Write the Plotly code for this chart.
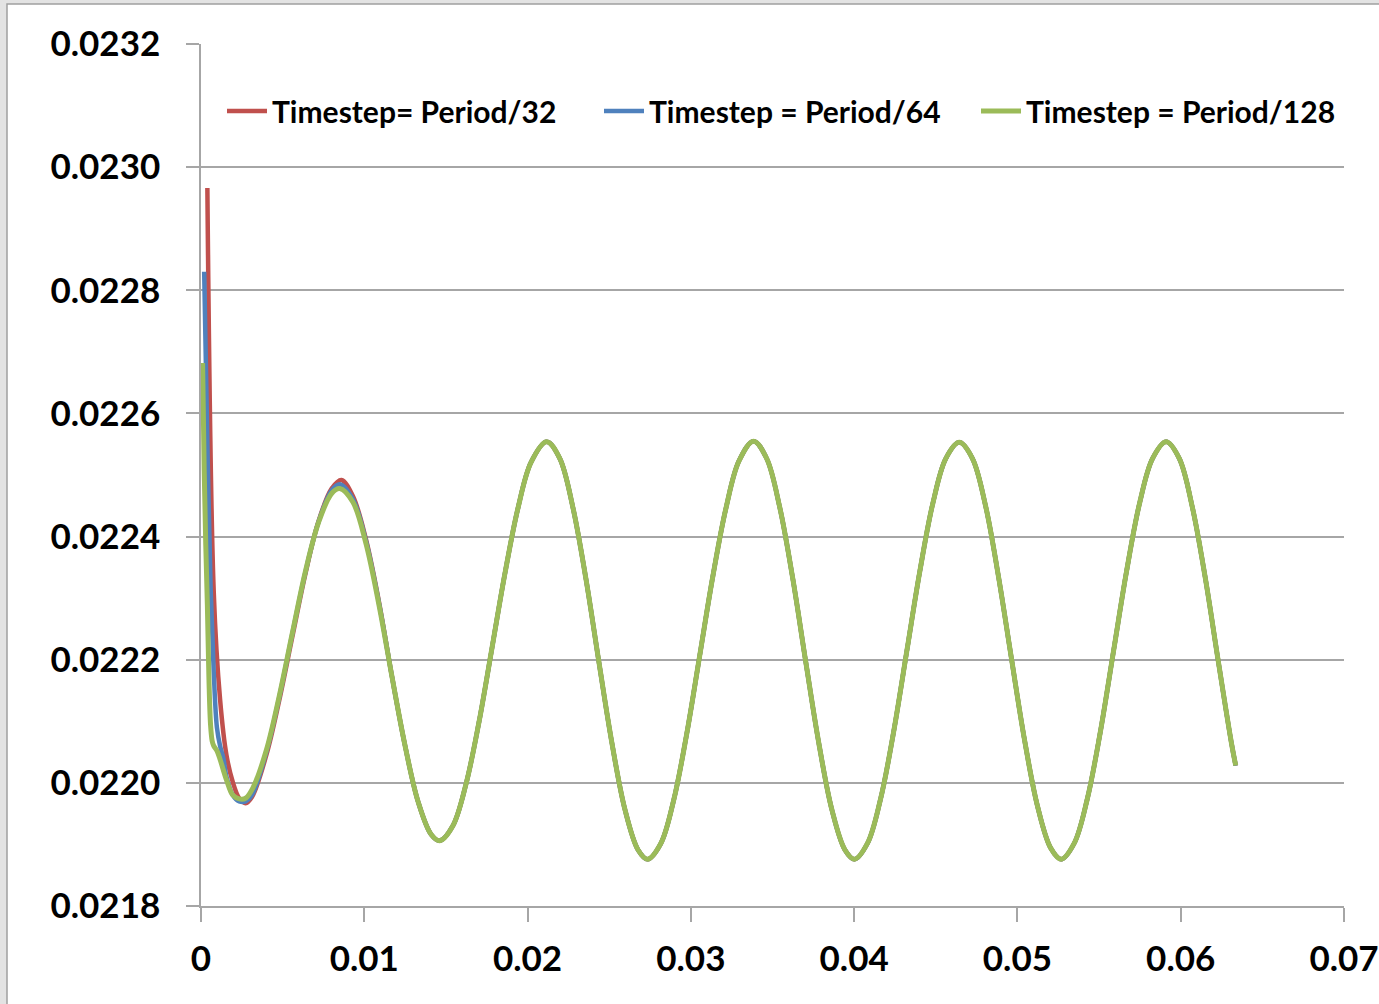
import plotly.graph_objects as go

# ---------------- data ----------------
names = ["Timestep= Period/32", "Timestep = Period/64", "Timestep = Period/128"]
colors = ["#C0504D", "#4F81BD", "#9BBB59"]

# start-up part + first cycle, one per series
t_red = [0.00039, 0.00078, 0.00117, 0.00156, 0.00195, 0.00234, 0.00273, 0.00312,
         0.0040, 0.0048, 0.0056, 0.0064, 0.0072, 0.0080, 0.0086, 0.0093, 0.0101, 0.0109]
v_red = [0.022966, 0.022310, 0.022135, 0.022045, 0.022001, 0.021975, 0.021967, 0.021977,
         0.022045, 0.022135, 0.022238, 0.022340, 0.022425, 0.022478, 0.022492, 0.022466,
         0.022396, 0.022294]

t_blue = [0.000195, 0.00039, 0.000585, 0.00078, 0.000975, 0.00117, 0.00137, 0.00156,
          0.00195, 0.00234, 0.00273, 0.00312, 0.0040, 0.0048, 0.0056, 0.0064, 0.0072,
          0.0080, 0.0085, 0.0093, 0.0101, 0.0109]
v_blue = [0.022830, 0.022550, 0.022320, 0.022180, 0.022090, 0.022060, 0.022040, 0.022010,
          0.021980, 0.021970, 0.021970, 0.021980, 0.022050, 0.022140, 0.022243, 0.022343,
          0.022424, 0.022475, 0.022485, 0.022461, 0.022393, 0.022292]

t_green = [0.0000977, 0.000195, 0.000293, 0.00039, 0.000488, 0.000586, 0.000684, 0.00078,
           0.00098, 0.00117, 0.00156, 0.00195, 0.00234, 0.00273, 0.0032, 0.0040, 0.0048,
           0.0056, 0.0064, 0.0072, 0.0080, 0.0085, 0.0093, 0.0101, 0.0109]
v_green = [0.022682, 0.022508, 0.022386, 0.022289, 0.022167, 0.022094, 0.022068, 0.022060,
           0.022052, 0.022038, 0.022005, 0.021980, 0.021974, 0.021975, 0.021993, 0.022053,
           0.022142, 0.022244, 0.022344, 0.022423, 0.022470, 0.022478, 0.022456, 0.022389,
           0.022289]

# settled oscillation (the three series coincide here)
t_osc = [0.0117, 0.0125, 0.0133, 0.0141, 0.01462, 0.01542, 0.01622, 0.01702, 0.01782,
         0.01862, 0.01942, 0.02022, 0.02117, 0.02197, 0.02277, 0.02357, 0.02437, 0.02517,
         0.02597, 0.02677, 0.02735, 0.02815, 0.02895, 0.02975, 0.03055, 0.03135, 0.03215,
         0.03295, 0.03384, 0.03464, 0.03544, 0.03624, 0.03704, 0.03784, 0.03864, 0.03944,
         0.04002, 0.04082, 0.04162, 0.04242, 0.04322, 0.04402, 0.04482, 0.04562, 0.04644,
         0.04724, 0.04804, 0.04884, 0.04964, 0.05044, 0.05124, 0.05204, 0.05268, 0.05348,
         0.05428, 0.05508, 0.05588, 0.05668, 0.05748, 0.05828, 0.05911, 0.05991, 0.06071,
         0.06151, 0.06231, 0.06311, 0.06337]
v_osc = [0.022172, 0.022060, 0.021969, 0.021916, 0.021906, 0.021930, 0.021997, 0.022098,
         0.022219, 0.022341, 0.022447, 0.022521, 0.022554, 0.022527, 0.022448, 0.022332,
         0.022196, 0.022064, 0.021956, 0.021891, 0.021876, 0.021901, 0.021972, 0.022080,
         0.022208, 0.022336, 0.022446, 0.022523, 0.022555, 0.022527, 0.022448, 0.022332,
         0.022196, 0.022064, 0.021956, 0.021891, 0.021876, 0.021902, 0.021974, 0.022083,
         0.022213, 0.022343, 0.022454, 0.022527, 0.022553, 0.022527, 0.022451, 0.022335,
         0.022201, 0.022069, 0.021961, 0.021894, 0.021876, 0.021902, 0.021974, 0.022083,
         0.022213, 0.022343, 0.022454, 0.022527, 0.022554, 0.022527, 0.022448, 0.022332,
         0.022196, 0.022064, 0.022028]

x_ticks = [0, 0.01, 0.02, 0.03, 0.04, 0.05, 0.06, 0.07]
x_labels = ["0", "0.01", "0.02", "0.03", "0.04", "0.05", "0.06", "0.07"]
y_ticks = [0.0218, 0.0220, 0.0222, 0.0224, 0.0226, 0.0228, 0.0230, 0.0232]
y_labels = ["0.0218", "0.0220", "0.0222", "0.0224", "0.0226", "0.0228", "0.0230", "0.0232"]

# ---------------- figure ----------------
W, H = 1379, 1004
L, R, T, B = 201, 35, 44, 98
pw, ph = W - L - R, H - T - B

fig = go.Figure()
series = [(t_red, v_red, 4.5), (t_blue, v_blue, 4.5), (t_green, v_green, 5)]
for (ts, vs, w), name, col in zip(series, names, colors):
    fig.add_trace(go.Scatter(
        x=ts + t_osc, y=vs + v_osc, mode="lines", name=name,
        line=dict(color=col, width=w, shape="spline", smoothing=1.0),
    ))

font = "Lato, 'Open Sans', sans-serif"
fig.update_layout(
    width=W, height=H,
    margin=dict(l=L, r=R, t=T, b=B, autoexpand=False),
    paper_bgcolor="#E3E3E3",
    plot_bgcolor="rgba(0,0,0,0)",
    showlegend=True,
    legend=dict(
        orientation="h", x=(222 - L) / pw, xanchor="left",
        y=1 - (111 - T) / ph, yanchor="middle",
        font=dict(family=font, size=30, color="black", weight="bold"),
        bgcolor="rgba(0,0,0,0)", itemwidth=40, entrywidth=322,
        traceorder="normal",
    ),
    xaxis=dict(
        range=[0, 0.07], tickvals=x_ticks, ticktext=x_labels,
        showgrid=False, zeroline=False,
        showline=True, linecolor="#A6A6A6", linewidth=1.5,
        ticks="outside", ticklen=14, tickcolor="#A6A6A6", tickwidth=1.5,
        tickfont=dict(family=font, size=35, color="black", weight="bold"),
        ticklabelstandoff=7, automargin=False,
    ),
    yaxis=dict(
        range=[0.0218, 0.0232], tickvals=y_ticks, ticktext=y_labels,
        showgrid=True, gridcolor="#A6A6A6", gridwidth=1.5, zeroline=False,
        showline=True, linecolor="#A6A6A6", linewidth=1.5,
        ticks="outside", ticklen=13, tickcolor="#A6A6A6", tickwidth=1.5,
        tickfont=dict(family=font, size=35, color="black", weight="bold"),
        ticklabelstandoff=19, automargin=False,
    ),
    shapes=[dict(
        type="rect", xref="paper", yref="paper", layer="below",
        x0=(7 - L) / pw, x1=(W + 20 - L) / pw,
        y0=-(B + 20) / ph, y1=1 + (T - 4) / ph,
        fillcolor="white", line=dict(color="#A0A0A0", width=1.5),
    )],
)

fig.write_html("out.html", config={"displayModeBar": False},
               post_script="document.body.style.margin='0px';")
